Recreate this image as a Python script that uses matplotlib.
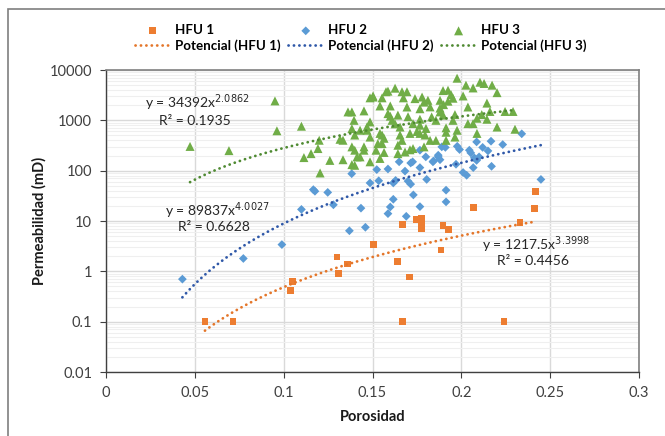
import numpy as np
import matplotlib
matplotlib.use("Agg")
import matplotlib.pyplot as plt
from matplotlib.ticker import FixedLocator, NullFormatter
from matplotlib.patches import Rectangle

plt.rcParams['font.family'] = ['Lato', 'DejaVu Sans']

# ---------------- data ----------------
hfu1_x = [0.0557, 0.0715, 0.105, 0.104, 0.130, 0.131, 0.136, 0.1505, 0.164, 0.167,
          0.171, 0.167, 0.1745, 0.1775, 0.1775, 0.1775, 0.1897, 0.1886, 0.193, 0.2068,
          0.224, 0.233, 0.241, 0.2417]
hfu1_y = [0.10, 0.10, 0.62, 0.42, 1.93, 0.91, 1.40, 3.4, 1.58, 8.5,
          0.77, 0.10, 10.8, 11.3, 8.0, 7.2, 8.1, 2.65, 6.85, 18.7,
          0.10, 9.4, 17.9, 38.9]

hfu2_x = [0.043, 0.0773, 0.099, 0.110, 0.1167, 0.1176, 0.1248, 0.128, 0.137, 0.1383,
          0.1435, 0.146, 0.1486, 0.1524, 0.1535, 0.1587, 0.1587, 0.160, 0.1617, 0.163,
          0.1617, 0.165, 0.1683, 0.169, 0.170, 0.1715, 0.1715, 0.1726, 0.173, 0.1767,
          0.1767, 0.1767, 0.1805, 0.180, 0.1843, 0.184, 0.187, 0.188, 0.189, 0.191,
          0.1914, 0.1914, 0.1977, 0.197, 0.199, 0.201, 0.203, 0.2045, 0.2053, 0.2067,
          0.2073, 0.2086, 0.2086, 0.210, 0.212, 0.215, 0.2167, 0.217, 0.2233, 0.234,
          0.2448, 0.187]
hfu2_y = [0.70, 1.8, 3.4, 17, 42, 39, 37, 21, 6.4, 87,
          18, 7.5, 57, 105, 63, 108, 14, 19, 57, 64,
          27, 150, 98, 12.4, 62, 54, 142, 150, 33, 115,
          19.3, 255, 67, 188, 155, 150, 188, 165, 297, 290,
          41, 24, 305, 134, 263, 92, 81, 255, 226, 115,
          180, 373, 160, 188, 290, 247, 385, 122, 330, 540,
          67, 203]

hfu3_x = [0.0473, 0.0692, 0.0951, 0.0962, 0.110, 0.1114, 0.1154, 0.1193, 0.120, 0.1205,
          0.126, 0.1317, 0.1334, 0.1334, 0.1362, 0.1384, 0.1396, 0.1384, 0.1384, 0.140,
          0.140, 0.1384, 0.1413, 0.143, 0.143, 0.140, 0.1452, 0.1452, 0.1469, 0.1469,
          0.1452, 0.1486, 0.1486, 0.1486, 0.1486, 0.1503, 0.1503, 0.152, 0.153, 0.1542,
          0.1542, 0.1542, 0.1554, 0.1554, 0.1554, 0.1565, 0.1565, 0.1576, 0.1587, 0.1587,
          0.160, 0.160, 0.161, 0.1627, 0.1627, 0.1643, 0.1643, 0.1643, 0.1655, 0.1655,
          0.1666, 0.1666, 0.1674, 0.1683, 0.1694, 0.1694, 0.170, 0.1711, 0.1711, 0.1728,
          0.1728, 0.1739, 0.175, 0.1767, 0.1767, 0.1767, 0.1767, 0.1779, 0.179, 0.179,
          0.1801, 0.1796, 0.1812, 0.1824, 0.1824, 0.1833, 0.1857, 0.1857, 0.188, 0.188,
          0.188, 0.1897, 0.1897, 0.190, 0.1914, 0.1914, 0.1914, 0.1925, 0.1925, 0.1942,
          0.1953, 0.1964, 0.1964, 0.1976, 0.1976, 0.1953, 0.201, 0.2026, 0.2037, 0.2037,
          0.2066, 0.2066, 0.2088, 0.2088, 0.2105, 0.2115, 0.2128, 0.2144, 0.2144, 0.2161,
          0.2173, 0.2201, 0.2201, 0.2246, 0.2291, 0.2302]
hfu3_y = [303, 250, 2430, 620, 764, 182, 218, 275, 402, 90,
          160, 420, 165, 402, 1470, 1470, 1000, 685, 297, 255,
          128, 132, 188, 635, 188, 510, 1540, 297, 740, 635,
          255, 930, 465, 150, 2800, 3050, 2900, 255, 345, 550,
          175, 1930, 2800, 345, 510, 440, 230, 3700, 1360, 3800,
          1930, 1210, 1000, 4350, 850, 1270, 320, 218, 735, 510,
          400, 3700, 2800, 235, 3700, 1840, 1180, 550, 260, 860,
          275, 2700, 600, 1050, 800, 1700, 550, 2900, 2300, 297,
          690, 510, 2500, 1850, 400, 1170, 1000, 400, 2500, 1470,
          1750, 3900, 1270, 2050, 710, 580, 400, 3960, 2400, 3250,
          2750, 1300, 465, 6870, 635, 1000, 3050, 4990, 1840, 860,
          4400, 860, 550, 1100, 5720, 1300, 5400, 2200, 1050, 1500,
          4990, 3550, 735, 1500, 1500, 665]

# power-law trendline coefficients (y = a * x^b) shown on the chart
fit_a = [1217.5, 89837, 34392]
fit_b = [3.3998, 4.0027, 2.0862]
fit_r2 = ["0.4456", "0.6628", "0.1935"]
fit_a_txt = ["1217.5", "89837", "34392"]
fit_b_txt = ["3.3998", "4.0027", "2.0862"]

series_names = ["HFU 1", "HFU 2", "HFU 3"]
x_ticks = [0, 0.05, 0.1, 0.15, 0.2, 0.25, 0.3]
x_tick_labels = ["0", "0.05", "0.1", "0.15", "0.2", "0.25", "0.3"]
y_ticks = [0.01, 0.1, 1, 10, 100, 1000, 10000]
y_tick_labels = ["0.01", "0.1", "1", "10", "100", "1000", "10000"]

# ---------------- style ----------------
marker_colors = ["#ED7D31", "#5B9BD5", "#70AD47"]
line_colors = ["#E4762A", "#2F58A8", "#4F8A32"]
markers = ["s", "D", "^"]
msizes = [24, 20, 42]

W, H = 665, 436
fig = plt.figure(figsize=(W / 100, H / 100), dpi=100)
ax = fig.add_axes([106 / W, 1 - 372 / H, (639 - 106) / W, (372 - 70) / H])

# outer chart border
fig.add_artist(Rectangle((8 / W, -0.05), 1.2, 1 - 9 / H + 0.05, transform=fig.transFigure,
                         fill=False, edgecolor="#7F7F7F", linewidth=1.2))

xs_all = [hfu1_x, hfu2_x, hfu3_x]
ys_all = [hfu1_y, hfu2_y, hfu3_y]

handles_m = []
handles_l = []
for i in range(3):
    h = ax.scatter(xs_all[i], ys_all[i], marker=markers[i], s=msizes[i],
                   color=marker_colors[i], edgecolors="none", zorder=3, label=series_names[i])
    handles_m.append(h)
for i in range(3):
    xx = np.linspace(min(xs_all[i]), max(xs_all[i]), 300)
    yy = fit_a[i] * xx ** fit_b[i]
    ln, = ax.plot(xx, yy, linestyle=(0, (0.05, 1.9)), linewidth=2.0, color=line_colors[i],
                  zorder=4, label="Potencial (%s)" % series_names[i],
                  dash_capstyle="round", solid_capstyle="round")
    handles_l.append(ln)

ax.set_yscale("log")
ax.set_xlim(0, 0.3)
ax.set_ylim(0.01, 10000)

ax.xaxis.set_major_locator(FixedLocator(x_ticks))
ax.set_xticklabels(x_tick_labels)
ax.yaxis.set_major_locator(FixedLocator(y_ticks))
ax.set_yticklabels(y_tick_labels)
minor = [m * 10.0 ** e for e in range(-2, 4) for m in range(2, 10)]
ax.yaxis.set_minor_locator(FixedLocator(minor))
ax.yaxis.set_minor_formatter(NullFormatter())

ax.grid(True, which="major", color="#D9D9D9", linewidth=1.0, zorder=0)
ax.grid(True, which="minor", axis="y", color="#EFEFEF", linewidth=0.8, zorder=0)
ax.set_axisbelow(True)

for s in ["top", "right"]:
    ax.spines[s].set_color("#808080")
    ax.spines[s].set_linewidth(1.2)
for s in ["left", "bottom"]:
    ax.spines[s].set_color("#404040")
    ax.spines[s].set_linewidth(1.0)

ax.tick_params(axis="both", which="major", direction="out", length=4, color="#404040",
               labelsize=10.5, labelcolor="#404040", pad=6)
ax.tick_params(axis="y", which="minor", length=0)

ax.set_xlabel("Porosidad", fontsize=10.5, fontweight="bold", color="#1a1a1a", labelpad=7)
ax.set_ylabel("Permeabilidad (mD)", fontsize=10.5, fontweight="bold", color="#1a1a1a", labelpad=2)

# legend: three columns, markers on first row, trendlines on second
handles = []
labels = []
for i in range(3):
    handles += [handles_m[i], handles_l[i]]
    labels += [series_names[i], "Potencial (%s)" % series_names[i]]
leg = fig.legend(handles, labels, ncol=3, loc="center", bbox_to_anchor=(0.543, 1 - 38 / H),
                 frameon=False, prop={"weight": "bold", "size": 9.6},
                 handlelength=2.6, handletextpad=0.4, columnspacing=0.55, labelspacing=0.2,
                 markerscale=1.0)

# equations
eq_xy = [(0.2116, 3.45), (0.033, 16.3), (0.022, 2290)]
r2_xy = [(0.220, 1.58), (0.0405, 7.5), (0.030, 960)]
for i in range(3):
    ax.text(eq_xy[i][0], eq_xy[i][1], r"y = %sx$^{%s}$" % (fit_a_txt[i], fit_b_txt[i]),
            fontsize=10, color="#262626", ha="left", va="center", zorder=5)
    ax.text(r2_xy[i][0], r2_xy[i][1], "R² = %s" % fit_r2[i],
            fontsize=10, color="#262626", ha="left", va="center", zorder=5)

fig.savefig("out.png", dpi=100)
